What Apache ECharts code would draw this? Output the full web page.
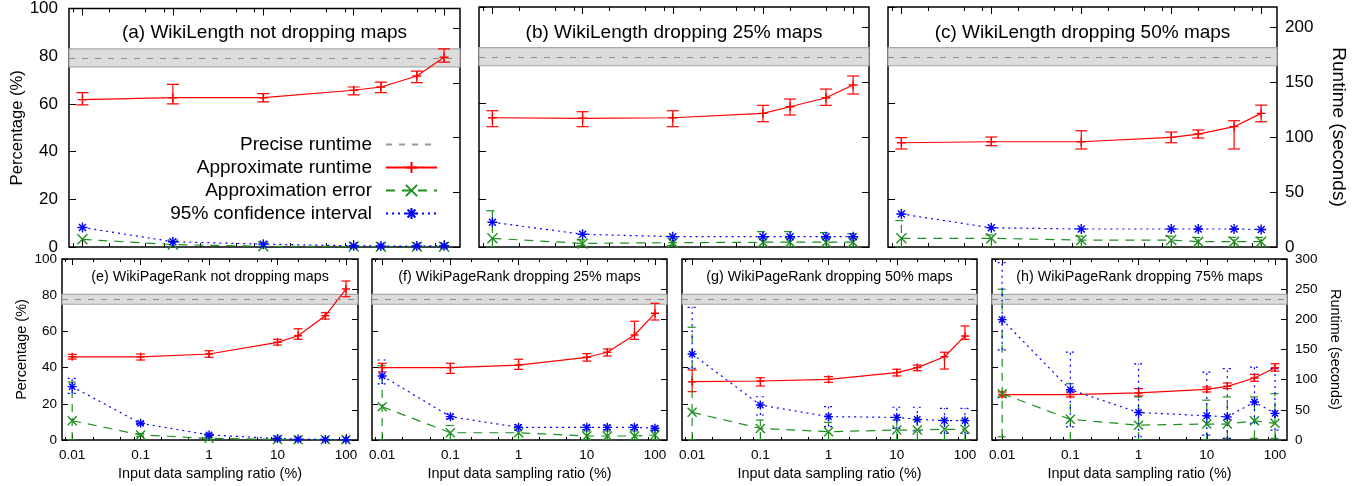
<!DOCTYPE html>
<html>
<head>
<meta charset="utf-8">
<script src="https://cdn.jsdelivr.net/npm/echarts@6/dist/echarts.min.js"></script>
<style>
  html, body { margin: 0; padding: 0; background: #fff; }
  #chart { width: 1359px; height: 486px; }
</style>
</head>
<body>
<div id="chart"></div>
<script>
// sampling ratios (%) shared by every panel
const ratios = [0.01, 0.1, 1, 10, 20, 50, 100];
const xTickValues = [0.01, 0.1, 1, 10, 100];
const xMinorTicks = [0.008, 0.02, 0.05, 0.08, 0.2, 0.5, 0.8, 2, 5, 8, 20, 50, 80];
const pctTicks = [0, 20, 40, 60, 80, 100];
const runtimeTicksTop = [0, 50, 100, 150, 200];
const runtimeTicksBottom = [0, 50, 100, 150, 200, 250, 300];

const titles = [
  '(a) WikiLength not dropping maps',
  '(b) WikiLength dropping 25% maps',
  '(c) WikiLength dropping 50% maps',
  '(e) WikiPageRank not dropping maps',
  '(f) WikiPageRank dropping 25% maps',
  '(g) WikiPageRank dropping 50% maps',
  '(h) WikiPageRank dropping 75% maps'
];

// precise runtime (seconds): mean, low, high
const preciseTop = [172.5, 164.8, 181.2];
const preciseBottom = [233, 225, 241.5];

// approximate runtime (seconds)
const aRuntime = [134.8, 136.6, 136.6, 143.4, 146.4, 156.4, 173.6];
const aRuntimeLow = [130, 130.9, 132.7, 139.1, 141.2, 150.3, 169.1];
const aRuntimeHigh = [141.2, 148.8, 140.3, 146.4, 150.9, 160.9, 181.2];
const bRuntime = [117.5, 117, 117.5, 121.5, 127.5, 135.7, 147.3];
const bRuntimeLow = [109.4, 109.4, 109.4, 113.9, 120, 128.8, 139.1];
const bRuntimeHigh = [123.9, 123, 123.9, 128.8, 134.5, 143.6, 155.5];
const cRuntime = [94.8, 95.7, 95.7, 99.7, 102.7, 109.4, 121.5];
const cRuntimeLow = [89.1, 92.1, 89.1, 94.8, 99.1, 89.1, 113.9];
const cRuntimeHigh = [99.4, 100, 105.7, 104.5, 106.4, 114.8, 129];
const eRuntime = [137.9, 137.9, 142.5, 161.9, 172.8, 206, 250.2];
const eRuntimeLow = [134.2, 132.6, 137, 157.4, 166.9, 200.5, 237.5];
const eRuntimeHigh = [142, 142.5, 148, 166.9, 184.4, 211, 263.5];
const fRuntime = [120, 120, 124.2, 137.1, 145.5, 174, 210];
const fRuntimeLow = [112.8, 110.4, 117, 130.8, 139.2, 166.8, 198.9];
const fRuntimeHigh = [127.2, 127.2, 133.8, 143.1, 150.9, 196.8, 226.5];
const gRuntime = [96.6, 97.8, 100.5, 111.6, 120, 138, 172.5];
const gRuntimeLow = [80.1, 89.4, 95.7, 106.2, 114.9, 117.6, 166.8];
const gRuntimeHigh = [116.1, 103.2, 105, 117.3, 124.2, 145.5, 189];
const hRuntime = [75.3, 75.3, 78, 84, 89, 102.7, 119.8];
const hRuntimeLow = [71.4, 71.4, 73, 79.6, 85.2, 97.3, 114.2];
const hRuntimeHigh = [79.6, 79.6, 85.2, 87.9, 94.5, 108.8, 126.4];

// approximation error (%)
const aError = [3.2, 1, 0.3, 0.2, 0.1, 0.1, 0.1];
const aErrorLow = [3.2, 1, 0.3, 0.2, 0.1, 0.1, 0.1];
const aErrorHigh = [3.2, 1, 0.3, 0.2, 0.1, 0.1, 0.1];
const bError = [3.6, 1.5, 1.8, 2, 2, 2, 2];
const bErrorLow = [0, 0.5, 0.5, 0, 0, 0, 0];
const bErrorHigh = [15.1, 3, 4.5, 6.4, 6.4, 6, 5.5];
const cError = [3.6, 3.6, 2.9, 2.9, 2.2, 2.2, 2.2];
const cErrorLow = [0, 0, 0, 0, 0, 0, 0];
const cErrorHigh = [11, 5, 4.5, 4.5, 4, 4, 4];
const eError = [10.7, 2.8, 0.9, 0.3, 0.1, 0.1, 0.1];
const eErrorLow = [0, 2, 0.5, 0.3, 0.1, 0.1, 0.1];
const eErrorHigh = [32, 3.5, 1.3, 0.3, 0.1, 0.1, 0.1];
const fError = [18.4, 4, 4, 2.2, 2.2, 2.2, 2.8];
const fErrorLow = [0, 0, 0, 0, 0, 0, 0];
const fErrorHigh = [41, 8, 7, 5, 5, 5, 5.5];
const gError = [15.3, 6.4, 4.6, 5.5, 5.5, 5.9, 5.9];
const gErrorLow = [0, 0, 0, 0, 0, 0, 0];
const gErrorHigh = [62.3, 11, 9.8, 11, 11, 11, 11];
const hError = [25.6, 11.4, 8.2, 8.8, 8.8, 10.6, 9.2];
const hErrorLow = [1.8, 0, 0, 0, 0.9, 0.9, 0.9];
const hErrorHigh = [83.3, 31.1, 23.8, 22, 23.8, 23.8, 25.6];

// 95% confidence interval (%)
const aConf = [8.2, 2.2, 1.2, 0.5, 0.4, 0.4, 0.5];
const aConfLow = [8.2, 2.2, 1.2, 0.5, 0.4, 0.4, 0.5];
const aConfHigh = [8.2, 2.2, 1.2, 0.5, 0.4, 0.4, 0.5];
const bConf = [10.3, 5.3, 4.3, 4.3, 4.3, 4.3, 4.3];
const bConfLow = [10.3, 5.3, 4.3, 4.3, 4.3, 4.3, 4.3];
const bConfHigh = [10.3, 5.3, 4.3, 4.3, 4.3, 4.3, 4.3];
const cConf = [13.75, 8, 7.5, 7.5, 7.5, 7.5, 7.3];
const cConfLow = [13.75, 8, 7.5, 7.5, 7.5, 7.5, 7.3];
const cConfHigh = [13.75, 8, 7.5, 7.5, 7.5, 7.5, 7.3];
const eConf = [29.5, 9.2, 2.8, 0.8, 0.5, 0.3, 0.2];
const eConfLow = [25.8, 8.5, 2.2, 0.8, 0.5, 0.3, 0.2];
const eConfHigh = [34.1, 10, 3.4, 0.8, 0.5, 0.3, 0.2];
const fConf = [35.4, 12.9, 7, 7, 7, 7, 6.5];
const fConfLow = [31, 11.5, 5.5, 5.8, 5.8, 5.8, 5.3];
const fConfHigh = [44.2, 14.3, 8.5, 8.2, 8.2, 8.2, 7.7];
const gConf = [47.5, 19.3, 12.9, 12.5, 11.4, 10.7, 10.7];
const gConfLow = [39.6, 13.8, 7.4, 6.4, 5, 3.7, 3.7];
const gConfHigh = [73.3, 23.9, 18.4, 18.1, 18.1, 17.5, 17.5];
const hConf = [66.5, 27.8, 15.2, 13.4, 12.8, 21, 14.7];
const hConfLow = [49.8, 7.3, 1.8, 2.7, 0.9, 9.2, 5.5];
const hConfHigh = [98, 48.5, 42.1, 37.5, 39.4, 40.3, 39.4];

const FONT = '"Liberation Sans", Arial, Helvetica, sans-serif';
const X_MIN = 0.0071, X_MAX = 150;
const RED = '#ff0000', GREEN = '#1f8f1f', BLUE = '#0000ff';
const PLUS = 'path://M0,5L10,5M5,0L5,10';
const CROSS = 'path://M0,0L10,10M0,10L10,0';
const STAR = 'path://M0,5L10,5M5,0L5,10M1.5,1.5L8.5,8.5M1.5,8.5L8.5,1.5';

const panels = [
  { rt: [aRuntime, aRuntimeLow, aRuntimeHigh], err: [aError, aErrorLow, aErrorHigh], ci: [aConf, aConfLow, aConfHigh] },
  { rt: [bRuntime, bRuntimeLow, bRuntimeHigh], err: [bError, bErrorLow, bErrorHigh], ci: [bConf, bConfLow, bConfHigh] },
  { rt: [cRuntime, cRuntimeLow, cRuntimeHigh], err: [cError, cErrorLow, cErrorHigh], ci: [cConf, cConfLow, cConfHigh] },
  { rt: [eRuntime, eRuntimeLow, eRuntimeHigh], err: [eError, eErrorLow, eErrorHigh], ci: [eConf, eConfLow, eConfHigh] },
  { rt: [fRuntime, fRuntimeLow, fRuntimeHigh], err: [fError, fErrorLow, fErrorHigh], ci: [fConf, fConfLow, fConfHigh] },
  { rt: [gRuntime, gRuntimeLow, gRuntimeHigh], err: [gError, gErrorLow, gErrorHigh], ci: [gConf, gConfLow, gConfHigh] },
  { rt: [hRuntime, hRuntimeLow, hRuntimeHigh], err: [hError, hErrorLow, hErrorHigh], ci: [hConf, hConfLow, hConfHigh] }
];

// plot frames in pixels
const boxes = [
  { left: 69, top: 7, width: 391, height: 240 },
  { left: 479, top: 7, width: 390, height: 240 },
  { left: 888, top: 7, width: 389, height: 240 },
  { left: 62, top: 259, width: 296, height: 181 },
  { left: 372, top: 259, width: 295, height: 181 },
  { left: 682, top: 259, width: 295, height: 181 },
  { left: 992, top: 259, width: 295, height: 181 }
];

const fmt = v => String(Number(Number(v).toPrecision(6)));

function errorBars(name, xi, yi, vals, color, dash, cap) {
  return {
    type: 'custom', name, xAxisIndex: xi, yAxisIndex: yi, silent: true, clip: true,
    data: ratios.map((x, i) => [x, vals[1][i], vals[2][i]]),
    renderItem(params, api) {
      const x = api.value(0), lo = api.value(1), hi = api.value(2);
      if (Math.abs(hi - lo) < 1e-6) return null;
      const a = api.coord([x, lo]);
      const b = api.coord([x, hi]);
      const style = { stroke: color, lineWidth: 1.2, lineDash: dash, fill: null };
      return {
        type: 'group',
        children: [
          { type: 'line', shape: { x1: a[0], y1: a[1], x2: b[0], y2: b[1] }, style },
          { type: 'line', shape: { x1: a[0] - cap, y1: a[1], x2: a[0] + cap, y2: a[1] }, style },
          { type: 'line', shape: { x1: b[0] - cap, y1: b[1], x2: b[0] + cap, y2: b[1] }, style }
        ]
      };
    }
  };
}

function lineSeries(name, xi, yi, vals, color, dash, symbol, size) {
  return {
    type: 'line', name, xAxisIndex: xi, yAxisIndex: yi,
    data: ratios.map((x, i) => [x, vals[0][i]]),
    symbol, symbolSize: size, showSymbol: true,
    lineStyle: { color, width: 1.2, type: dash },
    itemStyle: { color, borderColor: color, borderWidth: 1.4 },
    emphasis: { disabled: true }
  };
}

const grid = [], xAxis = [], yAxis = [], series = [], title = [];

boxes.forEach((box, g) => {
  const top = g < 3;
  const fs = top ? 17 : 13.5;
  const major = top ? 7 : 6, minor = top ? 4 : 3;
  const tickStyle = { color: '#000', width: 1 };
  grid.push({ ...box, show: true, borderColor: '#000', borderWidth: 1.5, backgroundColor: 'transparent' });

  title.push({
    text: titles[g], left: box.left + box.width / 2, top: top ? 33 : 277,
    textAlign: 'center', textVerticalAlign: 'middle', padding: 0,
    textStyle: { fontFamily: FONT, fontWeight: 'normal', fontSize: top ? 19 : 14.3, color: '#000' }
  });

  const xBase = { type: 'log', gridIndex: g, min: X_MIN, max: X_MAX, axisLine: { show: false }, splitLine: { show: false } };
  const showX = !top;
  xAxis.push({
    ...xBase, position: 'bottom',
    axisTick: { inside: true, length: major, customValues: xTickValues, lineStyle: tickStyle },
    axisLabel: { show: showX, customValues: xTickValues, formatter: fmt, margin: 8, fontSize: fs, color: '#000', fontFamily: FONT },
    name: showX ? 'Input data sampling ratio (%)' : '', nameLocation: 'middle', nameGap: 27,
    nameTextStyle: { fontFamily: FONT, fontSize: 14.4, color: '#000' }
  });
  xAxis.push({ ...xBase, position: 'bottom', axisTick: { inside: true, length: minor, customValues: xMinorTicks, lineStyle: tickStyle }, axisLabel: { show: false } });
  xAxis.push({ ...xBase, position: 'top', axisTick: { inside: true, length: major, customValues: xTickValues, lineStyle: tickStyle }, axisLabel: { show: false } });
  xAxis.push({ ...xBase, position: 'top', axisTick: { inside: true, length: minor, customValues: xMinorTicks, lineStyle: tickStyle }, axisLabel: { show: false } });

  const showLeft = g === 0 || g === 3;
  const showRight = g === 2 || g === 6;
  const rtTicks = top ? runtimeTicksTop : runtimeTicksBottom;
  yAxis.push({
    type: 'value', gridIndex: g, position: 'left', min: 0, max: 100, interval: 20,
    axisLine: { show: false }, splitLine: { show: false },
    axisTick: { inside: true, length: major, customValues: pctTicks, lineStyle: tickStyle },
    axisLabel: { show: showLeft, customValues: pctTicks, margin: top ? 11 : 5, fontSize: fs, color: '#000', fontFamily: FONT },
    name: showLeft ? 'Percentage (%)' : '', nameLocation: 'middle', nameRotate: 90, nameGap: top ? 38 : 33,
    nameTextStyle: { fontFamily: FONT, fontSize: top ? 16.6 : 14.5, color: '#000' }
  });
  yAxis.push({
    type: 'value', gridIndex: g, position: 'right', min: 0, max: top ? 218.2 : 300,
    axisLine: { show: false }, splitLine: { show: false },
    axisTick: { inside: true, length: major, customValues: rtTicks, lineStyle: tickStyle },
    axisLabel: { show: showRight, customValues: rtTicks, margin: 8, fontSize: fs, color: '#000', fontFamily: FONT },
    name: showRight ? 'Runtime (seconds)' : '', nameLocation: 'middle', nameRotate: -90, nameGap: top ? 52 : 41,
    nameTextStyle: { fontFamily: FONT, fontSize: top ? 19 : 14.4, color: '#000' }
  });

  const xi = g * 4, yl = g * 2, yr = g * 2 + 1;
  const p = panels[g];
  const precise = top ? preciseTop : preciseBottom;
  const cap = top ? 6 : 4.5;
  const symSize = top ? 10 : 9;

  series.push({
    type: 'line', name: 'Precise runtime', xAxisIndex: xi, yAxisIndex: yr, data: [],
    symbol: 'none', lineStyle: { color: '#999', width: 1.2, type: [6, 7] },
    itemStyle: { color: '#999' },
    markArea: {
      silent: true,
      itemStyle: { color: '#dcdcdc', borderColor: '#a8a8a8', borderWidth: 1.2 },
      data: [[{ yAxis: precise[1] }, { yAxis: precise[2] }]]
    },
    markLine: {
      silent: true, symbol: 'none', label: { show: false },
      lineStyle: { color: '#8c8c8c', width: 1.2, type: [6, 7] },
      data: [{ yAxis: precise[0] }]
    }
  });
  series.push(errorBars('rt-bars', xi, yr, p.rt, RED, null, cap));
  series.push(lineSeries('Approximate runtime', xi, yr, p.rt, RED, 'solid', PLUS, symSize - 1));
  series.push(errorBars('err-bars', xi, yl, p.err, GREEN, [8, 6], cap));
  series.push(lineSeries('Approximation error', xi, yl, p.err, GREEN, [9, 7], CROSS, symSize));
  series.push(errorBars('ci-bars', xi, yl, p.ci, BLUE, [2, 4], cap));
  series.push(lineSeries('95% confidence interval', xi, yl, p.ci, BLUE, [2, 4], STAR, symSize));
});

const option = {
  animation: false,
  backgroundColor: '#fff',
  title,
  legend: {
    data: [
      { name: 'Precise runtime', itemStyle: { opacity: 0 } },
      'Approximate runtime', 'Approximation error', '95% confidence interval'
    ],
    orient: 'vertical', align: 'right', right: 921, top: 135,
    itemWidth: 51, itemHeight: 14, itemGap: 4, padding: 0,
    selectedMode: false,
    textStyle: { fontFamily: FONT, fontSize: 19, color: '#000', padding: [0, 9, 0, 0] }
  },
  grid, xAxis, yAxis, series
};

const chart = echarts.init(document.getElementById('chart'));
chart.setOption(option);
</script>
</body>
</html>
